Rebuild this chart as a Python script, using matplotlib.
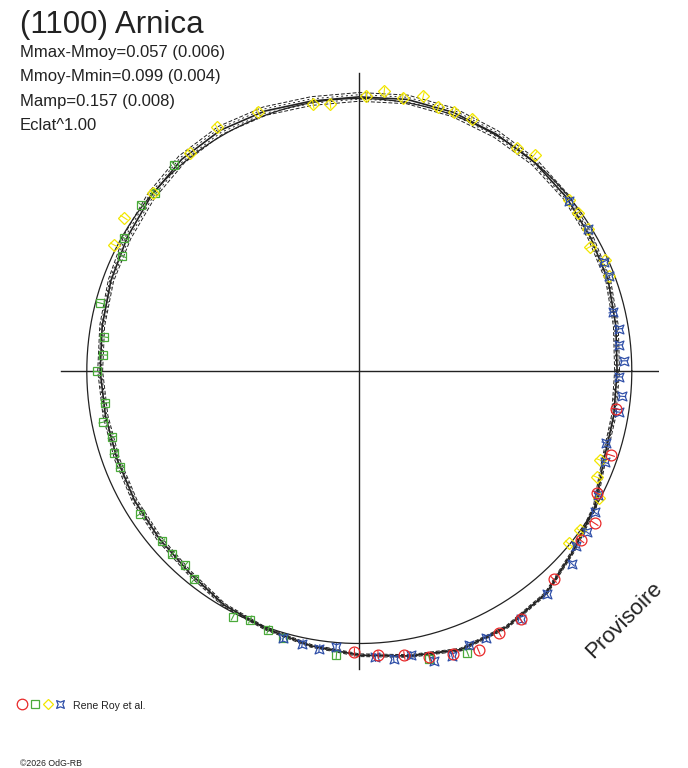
import numpy as np
import matplotlib
matplotlib.use("Agg")
import matplotlib.pyplot as plt
from matplotlib.path import Path

plt.rcParams['font.family'] = ['Liberation Sans', 'DejaVu Sans']

title = "(1100) Arnica"
info_lines = ["Mmax-Mmoy=0.057 (0.006)", "Mmoy-Mmin=0.099 (0.004)",
              "Mamp=0.157 (0.008)", "Eclat^1.00"]
source = "Rene Roy et al."
copyright_txt = "\u00a92026 OdG-RB"
stamp = "Provisoire"

# fitted lightcurve, radius = relative flux, read every 10 degrees
curve_deg = list(range(0, 360, 10))
curve_r = [0.946, 0.956, 0.972, 0.980, 0.992, 1.000, 1.004, 1.010, 1.012,
           1.006, 1.006, 1.015, 1.020, 1.014, 0.998, 0.983, 0.970, 0.958,
           0.951, 0.946, 0.946, 0.952, 0.958, 0.968, 0.992, 1.006, 1.024,
           1.043, 1.062, 1.088, 1.084, 1.066, 1.026, 0.998, 0.955, 0.948]
curve_spread = [0.009, 0.009, 0.009, 0.010, 0.012, 0.013, 0.014, 0.016, 0.016,
                0.016, 0.016, 0.016, 0.016, 0.016, 0.015, 0.014, 0.010, 0.009,
                0.009, 0.009, 0.009, 0.009, 0.009, 0.008, 0.006, 0.005, 0.005,
                0.005, 0.005, 0.005, 0.005, 0.005, 0.005, 0.006, 0.007, 0.008]

# observations (angle in degrees, relative flux)
red_deg = [351.6, 341.5, 332.8, 327.1, 322.6, 313.0, 303.0, 298.1, 293.1,
           288.3, 283.8, 279.0, 273.8, 269.0]
red_r = [0.951, 0.973, 0.980, 1.029, 1.023, 1.046, 1.087, 1.092, 1.115,
         1.092, 1.079, 1.057, 1.043, 1.033]

green_deg = [131.9, 138.9, 142.7, 150.5, 154.1, 165.3, 172.4, 176.4, 180.0,
             187.2, 191.3, 195.0, 198.5, 201.9, 213.1, 220.8, 224.4, 228.1,
             231.6, 242.8, 246.3, 250.6, 254.1, 265.4, 283.7, 291.0]
green_r = [1.018, 0.995, 1.007, 0.993, 0.968, 0.984, 0.946, 0.943, 0.963,
           0.941, 0.960, 0.940, 0.950, 0.947, 0.962, 0.957, 0.962, 0.958,
           0.976, 1.013, 0.996, 1.006, 1.017, 1.044, 1.086, 1.107]

yellow_deg = [88.5, 84.9, 96.2, 99.8, 111.3, 120.3, 127.8, 139.2, 146.9, 152.8,
              81.0, 76.9, 73.3, 69.8, 66.0, 54.6, 51.0, 39.3, 35.9, 31.9,
              28.3, 24.4, 20.9, 339.7, 335.9, 332.0, 324.1, 320.5]
yellow_r = [1.008, 1.030, 0.984, 0.993, 1.022, 1.035, 1.014, 1.001, 1.031, 1.013,
            1.016, 1.035, 1.010, 1.011, 1.014, 1.002, 1.022, 0.993, 0.990, 0.987,
            0.961, 0.989, 0.980, 0.941, 0.954, 0.995, 0.998, 0.995]

blue_deg = [39.1, 31.9, 24.1, 20.9, 13.1, 9.2, 5.7, 2.2, 358.7, 354.5, 351.0,
            343.7, 339.6, 332.5, 329.0, 324.7, 321.1, 317.8, 310.0, 303.0,
            295.3, 291.7, 288.0, 284.4, 280.4, 276.8, 273.2, 265.2, 261.8,
            258.2, 254.1]
blue_r = [0.990, 0.987, 0.982, 0.980, 0.955, 0.965, 0.957, 0.971, 0.952, 0.968,
          0.964, 0.942, 0.961, 0.987, 1.008, 1.023, 1.020, 1.052, 1.070, 1.087,
          1.085, 1.084, 1.098, 1.097, 1.061, 1.063, 1.053, 1.018, 1.029, 1.022,
          1.017]

RED = '#e82828'
GREEN = '#4aaa3a'
YELLOW = '#f2e600'
BLUE = '#2f4fa8'
INK = '#222222'

# pinched square used for the 4th data set
pinch = Path([(-1, -1), (0, -0.6), (1, -1), (0.6, 0), (1, 1), (0, 0.6),
              (-1, 1), (-0.6, 0), (-1, -1)], closed=True)


def to_xy(deg, r):
    a = np.radians(np.asarray(deg, dtype=float))
    r = np.asarray(r, dtype=float)
    return r * np.cos(a), r * np.sin(a)


def closed(values):
    return list(values) + [values[0]]


fig = plt.figure(figsize=(6.88, 7.68), dpi=100)
ax = fig.add_axes([59.55 / 688, 97.25 / 768, 599.5 / 688, 599.5 / 768])
ax.set_xlim(-1.1, 1.1)
ax.set_ylim(-1.1, 1.1)
ax.set_aspect('equal')
ax.axis('off')

# axes cross
ax.plot([-1.095, 1.095], [0, 0], color=INK, lw=1.0)
ax.plot([0, 0], [-1.092, 1.095], color=INK, lw=1.0)

# mean brightness circle
t = np.linspace(0, 2 * np.pi, 400)
ax.plot(np.cos(t), np.sin(t), color=INK, lw=0.9)

# fitted curve and its envelopes
deg_c = closed(curve_deg)
r_c = np.array(closed(curve_r))
s_c = np.array(closed(curve_spread))
cx, cy = to_xy(deg_c, r_c)
ax.plot(cx, cy, color=INK, lw=1.2)
for k, dash in [(1.0, (4, 2)), (-1.0, (4, 2)), (0.5, (2, 3)), (-0.5, (2, 3))]:
    ex, ey = to_xy(deg_c, r_c + k * s_c)
    ax.plot(ex, ey, color=INK, lw=0.7, dashes=dash)

# observations with short radial error bars
sets = [
    (green_deg, green_r, GREEN, 's', 5.8),
    (yellow_deg, yellow_r, YELLOW, 'D', 5.8),
    (blue_deg, blue_r, BLUE, pinch, 6.4),
    (red_deg, red_r, RED, 'o', 7.8),
]
for deg, r, col, mk, ms in sets:
    x, y = to_xy(deg, r)
    x0, y0 = to_xy(deg, np.asarray(r) - 0.014)
    x1, y1 = to_xy(deg, np.asarray(r) + 0.014)
    for i in range(len(x)):
        ax.plot([x0[i], x1[i]], [y0[i], y1[i]], color=col, lw=0.8)
    ax.plot(x, y, ls='none', marker=mk, ms=ms, mfc='none', mec=col, mew=0.9)

# overlay in pixel coordinates for the texts and legend
ov = fig.add_axes([0, 0, 1, 1])
ov.set_xlim(0, 688)
ov.set_ylim(768, 0)
ov.axis('off')

ov.text(20, 33, title, fontsize=22.5, color=INK, va='baseline')
for i, line in enumerate(info_lines):
    ov.text(20, 57 + i * 24.5, line, fontsize=12, color=INK, va='baseline')

leg = [(22.3, RED, 'o', 7.6), (35, GREEN, 's', 5.4), (47.7, YELLOW, 'D', 5.4),
       (60, BLUE, pinch, 5.6)]
for lx, col, mk, ms in leg:
    ov.plot([lx], [704.3], ls='none', marker=mk, ms=ms, mfc='none', mec=col, mew=0.9)
ov.text(73, 709, source, fontsize=7.6, color=INK, va='baseline')
ov.text(20, 766, copyright_txt, fontsize=6.3, color=INK, va='baseline')

ov.text(624, 620, stamp, fontsize=16, color=INK, rotation=45,
        ha='center', va='center', rotation_mode='anchor')

fig.savefig('out.png', dpi=100)
